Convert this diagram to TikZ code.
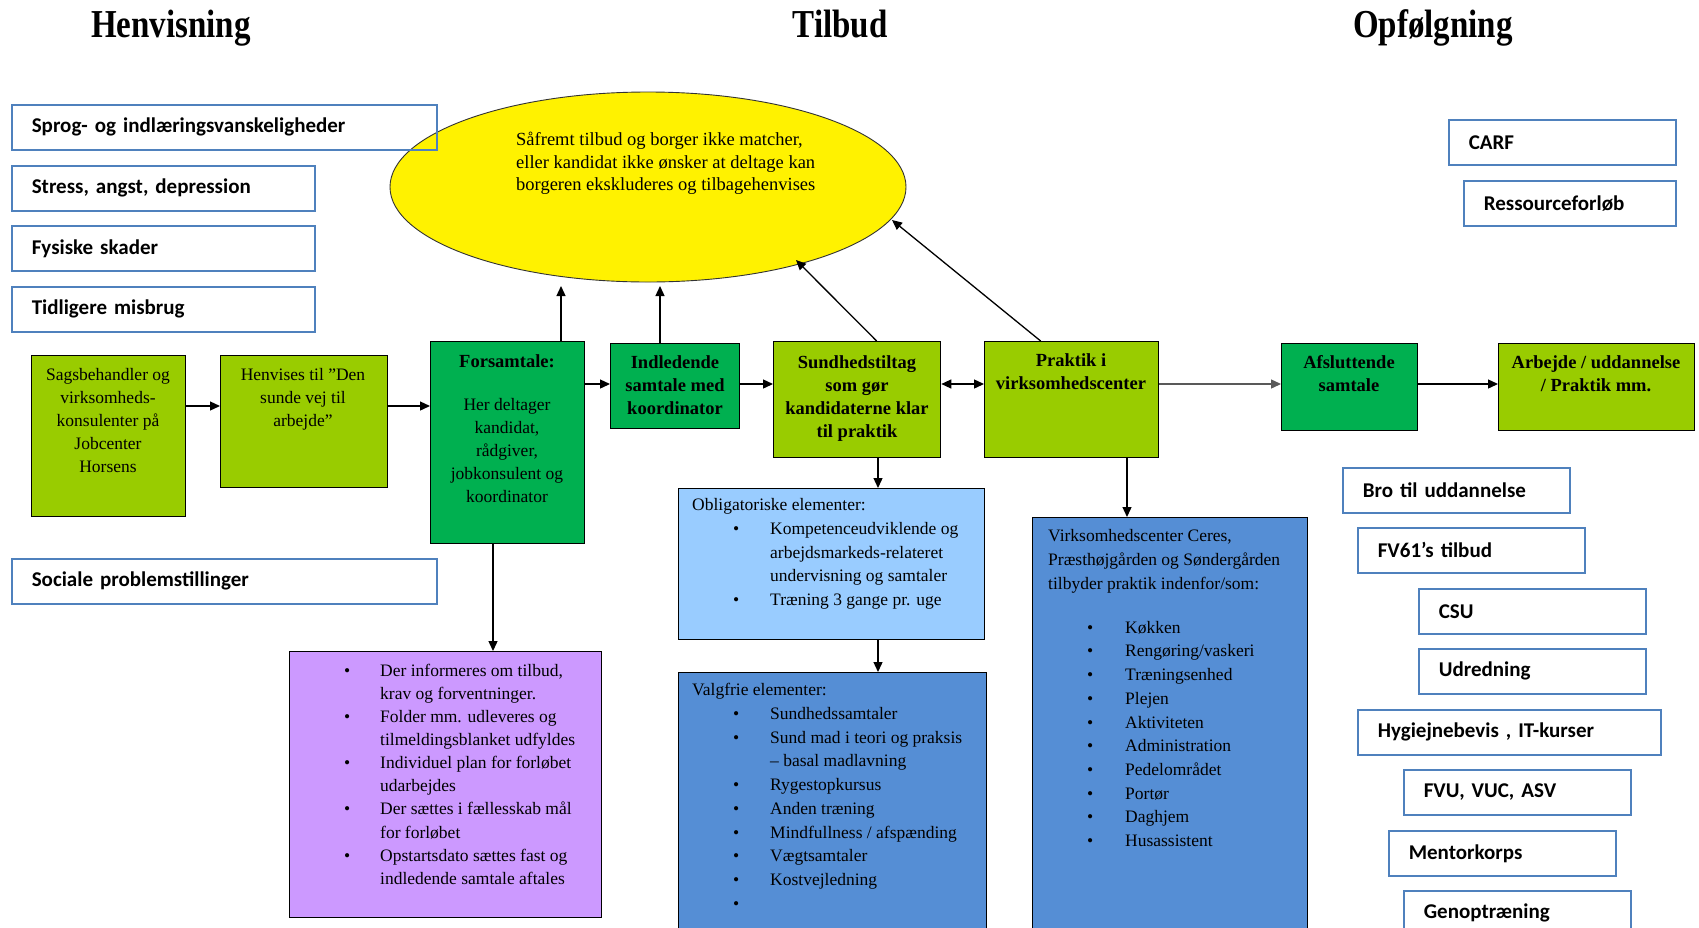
\documentclass[tikz,border=0pt]{standalone}
\usepackage{graphicx}
\usepackage{fontspec}
\setmainfont{Liberation Serif}
\newfontfamily\calfont{Carlito}
\usetikzlibrary{shapes.geometric,arrows.meta,calc}
\definecolor{lime}{HTML}{99CC00}
\definecolor{dgreen}{HTML}{00B050}
\definecolor{lblue}{HTML}{99CCFF}
\definecolor{mblue}{HTML}{558ED5}
\definecolor{lpurple}{HTML}{CC99FF}
\definecolor{oblue}{HTML}{4F81BD}
\newcommand{\bitem}[2]{\hspace*{#1}\makebox[#2][l]{\textbullet}}
\begin{document}
\begin{tikzpicture}[x=1pt,y=-1pt,
  box/.style={draw=black, line width=1.3pt, anchor=north west, inner sep=0pt},
  obox/.style={draw=oblue, line width=1.6pt, anchor=north west, inner xsep=20pt, inner ysep=0pt,
    minimum height=45pt, align=left, font=\calfont\bfseries\fontsize{21}{24}\selectfont},
  tx/.style={inner sep=0pt, align=center, anchor=north, font=\fontsize{17.5}{23}\selectfont},
  btx/.style={inner sep=0pt, align=center, anchor=north, font=\bfseries\fontsize{18.5}{23}\selectfont},
  ltx/.style={inner sep=0pt, align=left, anchor=north west, font=\fontsize{17.5}{23.7}\selectfont},
  ttl/.style={inner sep=0pt, anchor=base, font=\bfseries\fontsize{33}{36}\selectfont},
  arr/.style={-{Triangle[length=10pt,width=9pt]}, line width=1.3pt},
  darr/.style={{Triangle[length=10pt,width=9pt]}-{Triangle[length=10pt,width=9pt]}, line width=1.3pt},
]
\fill[white] (0,0) rectangle (1699,927);
\useasboundingbox (0,0) rectangle (1699,927);

% titles
\node[ttl] (t1) at (171,37) {\scalebox{1}[1.2]{Henvisning}};
\node[ttl] (t2) at (840,37) {\scalebox{1}[1.2]{Tilbud}};
\node[ttl] (t3) at (1433,37) {\scalebox{1}[1.2]{Opfølgning}};

% ellipse
\node[draw=black!80, line width=0.9pt, fill=yellow, ellipse, minimum width=516pt, minimum height=190pt, inner sep=0pt] (ell) at (648,187) {};
\node[ltx, font=\fontsize{18.5}{22.5}\selectfont] (ellt) at (516,130) {\strut Såfremt tilbud og borger ikke matcher,\\eller kandidat ikke ønsker at deltage kan\\borgeren ekskluderes og tilbagehenvises};

% left outline boxes
\node[obox, text width=385pt] (sprog) at (11,104) {Sprog- og indlæringsvanskeligheder};
\node[obox, text width=263pt] (stress) at (11,165) {Stress, angst, depression};
\node[obox, text width=263pt] (fys) at (11,225) {Fysiske skader};
\node[obox, text width=263pt] (tidl) at (11,286) {Tidligere misbrug};
\node[obox, text width=385pt] (soc) at (11,558) {Sociale problemstillinger};

% right outline boxes
\node[obox, text width=187pt] (carf) at (1448,119) {CARF};
\node[obox, text width=172pt] (res) at (1463,180) {Ressourceforløb};
\node[obox, text width=187pt] (bro) at (1342,467) {Bro til uddannelse};
\node[obox, text width=187pt] (fv) at (1357,527) {FV61’s tilbud};
\node[obox, text width=187pt] (csu) at (1418,588) {CSU};
\node[obox, text width=187pt] (udr) at (1418,648) {Udredning};
\node[obox, text width=263pt] (hyg) at (1357,709) {Hygiejnebevis , IT-kurser};
\node[obox, text width=187pt] (fvu) at (1403,769) {FVU, VUC, ASV};
\node[obox, text width=187pt] (ment) at (1388,830) {Mentorkorps};
\node[obox, text width=187pt] (gen) at (1403,890) {Genoptræning};

% main boxes
\node[box, fill=lime, minimum width=154pt, minimum height=161pt] (sags) at (31,355) {};
\node[box, fill=lime, minimum width=167pt, minimum height=132pt] (henv) at (220,355) {};
\node[box, fill=dgreen, minimum width=154pt, minimum height=202pt] (fors) at (430,341) {};
\node[box, fill=dgreen, minimum width=129pt, minimum height=85pt] (indl) at (610,343) {};
\node[box, fill=lime, minimum width=167pt, minimum height=116pt] (sund) at (773,341) {};
\node[box, fill=lime, minimum width=174pt, minimum height=116pt] (prak) at (984,341) {};
\node[box, fill=dgreen, minimum width=136pt, minimum height=87pt] (afsl) at (1281,343) {};
\node[box, fill=lime, minimum width=196pt, minimum height=87pt] (arb) at (1498,343) {};
\node[box, fill=lblue, minimum width=306pt, minimum height=151pt] (obl) at (678,488) {};
\node[box, fill=lpurple, minimum width=312pt, minimum height=266pt] (purp) at (289,651) {};
\node[box, fill=mblue, minimum width=308pt, minimum height=280pt] (valg) at (678,672) {};
\node[box, fill=mblue, minimum width=275pt, minimum height=440pt] (virk) at (1032,517) {};

% box texts
\node[tx] (sagst) at (108,364) {\strut Sagsbehandler og\\virksomheds-\\konsulenter på\\Jobcenter\\Horsens};
\node[tx] (henvt) at (303,364) {\strut Henvises til ”Den\\sunde vej til\\arbejde”};
\node[tx] (forst) at (507,351) {\strut{\bfseries\fontsize{18.5}{23}\selectfont Forsamtale:}\\[20pt]Her deltager\\kandidat,\\rådgiver,\\jobkonsulent og\\koordinator};
\node[btx] (indlt) at (675,352) {\strut Indledende\\samtale med\\koordinator};
\node[btx] (sundt) at (857,352) {\strut Sundhedstiltag\\som gør\\kandidaterne klar\\til praktik};
\node[btx] (prakt) at (1071,350) {\strut Praktik i\\virksomhedscenter};
\node[btx] (afslt) at (1349,352) {\strut Afsluttende\\samtale};
\node[btx] (arbt) at (1596,352) {\strut Arbejde / uddannelse\\/ Praktik mm.};

\node[ltx] (oblt) at (692,494) {\strut Obligatoriske elementer:\\
\bitem{41pt}{37pt}Kompetenceudviklende og\\
\hspace*{78pt}arbejdsmarkeds-relateret\\
\hspace*{78pt}undervisning og samtaler\\
\bitem{41pt}{37pt}Træning 3 gange pr. uge};

\node[ltx] (valgt) at (692,679) {\strut Valgfrie elementer:\\
\bitem{41pt}{37pt}Sundhedssamtaler\\
\bitem{41pt}{37pt}Sund mad i teori og praksis\\
\hspace*{78pt}– basal madlavning\\
\bitem{41pt}{37pt}Rygestopkursus\\
\bitem{41pt}{37pt}Anden træning\\
\bitem{41pt}{37pt}Mindfullness / afspænding\\
\bitem{41pt}{37pt}Vægtsamtaler\\
\bitem{41pt}{37pt}Kostvejledning\\
\bitem{41pt}{37pt}};

\node[ltx] (virkt) at (1048,525) {\strut Virksomhedscenter Ceres,\\
Præsthøjgården og Søndergården\\
tilbyder praktik indenfor/som:\\[20.3pt]
\bitem{39pt}{38pt}Køkken\\
\bitem{39pt}{38pt}Rengøring/vaskeri\\
\bitem{39pt}{38pt}Træningsenhed\\
\bitem{39pt}{38pt}Plejen\\
\bitem{39pt}{38pt}Aktiviteten\\
\bitem{39pt}{38pt}Administration\\
\bitem{39pt}{38pt}Pedelområdet\\
\bitem{39pt}{38pt}Portør\\
\bitem{39pt}{38pt}Daghjem\\
\bitem{39pt}{38pt}Husassistent};

\node[ltx, font=\fontsize{17.5}{23.1}\selectfont] (purpt) at (344,660) {\strut\bitem{0pt}{36pt}Der informeres om tilbud,\\
\hspace*{36pt}krav og forventninger.\\
\bitem{0pt}{36pt}Folder mm. udleveres og\\
\hspace*{36pt}tilmeldingsblanket udfyldes\\
\bitem{0pt}{36pt}Individuel plan for forløbet\\
\hspace*{36pt}udarbejdes\\
\bitem{0pt}{36pt}Der sættes i fællesskab mål\\
\hspace*{36pt}for forløbet\\
\bitem{0pt}{36pt}Opstartsdato sættes fast og\\
\hspace*{36pt}indledende samtale aftales};

% connectors
\coordinate (hA) at (0,406);
\coordinate (hB) at (0,384);
\coordinate (upA) at (561,286);
\coordinate (upB) at (660,286);
\coordinate (dgA) at (796,260);
\coordinate (dgB) at (892,220);
\coordinate (vA) at (493,0);
\coordinate (vB) at (878,0);
\coordinate (vC) at (1127,0);

\draw[arr] (sags.east |- hA) -- (henv.west |- hA);
\draw[arr] (henv.east |- hA) -- (fors.west |- hA);
\draw[arr] (fors.east |- hB) -- (indl.west |- hB);
\draw[arr] (indl.east |- hB) -- (sund.west |- hB);
\draw[darr] (sund.east |- hB) -- (prak.west |- hB);
\draw[arr, draw=black!65] (prak.east |- hB) -- (afsl.west |- hB);
\draw[arr] (afsl.east |- hB) -- (arb.west |- hB);

\draw[arr] (fors.north -| upA) -- (upA);
\draw[arr] (indl.north -| upB) -- (upB);
\draw[arr] ([xshift=19.5pt]sund.north) -- (dgA);
\draw[arr] ([xshift=-31pt]prak.north) -- (dgB);

\draw[arr] (fors.south -| vA) -- (purp.north -| vA);
\draw[arr] (sund.south -| vB) -- (obl.north -| vB);
\draw[arr] (obl.south -| vB) -- (valg.north -| vB);
\draw[arr] (prak.south -| vC) -- (virk.north -| vC);
\end{tikzpicture}
\end{document}
